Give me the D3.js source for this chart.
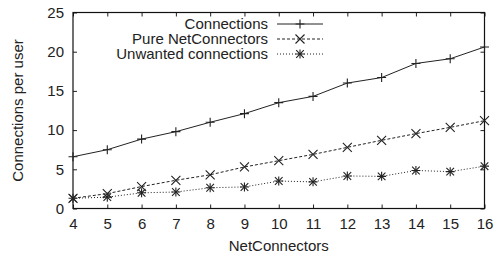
<!DOCTYPE html>
<html>
<head>
<meta charset="utf-8">
<script src="https://cdn.jsdelivr.net/npm/d3@7"></script>
<style>
  body { margin: 0; background: #fff; }
  text { font-family: "Liberation Sans", Arial, sans-serif; fill: #222; }
</style>
</head>
<body>
<div id="viz"></div>
<script>
// values
var nodes = [4, 5, 6, 7, 8, 9, 10, 11, 12, 13, 14, 15, 16];
var connections = [6.6, 7.5, 8.85, 9.8, 11.0, 12.1, 13.5, 14.3, 16.0, 16.7, 18.5, 19.1, 20.6];
var pureNC = [1.3, 1.9, 2.8, 3.6, 4.3, 5.3, 6.1, 6.9, 7.8, 8.7, 9.55, 10.35, 11.2];
var unwanted = [1.3, 1.45, 2.0, 2.1, 2.65, 2.75, 3.5, 3.4, 4.15, 4.1, 4.85, 4.7, 5.4];
var yTicks = [0, 5, 10, 15, 20, 25];
var seriesNames = ["Connections", "Pure NetConnectors", "Unwanted connections"];

var W = 495, H = 257;
// plot box (named so they don't clash with window.top etc.)
var padL = 73, padR = 484.5, padT = 12.5, padB = 208.5;
var fontSize = "15px";

var svg = d3.select("#viz").append("svg")
    .attr("width", W)
    .attr("height", H);

var x = d3.scaleLinear().domain([4, 16]).range([padL, padR]);
var y = d3.scaleLinear().domain([0, 25]).range([padB, padT]);

// ticks pointing inwards, mirrored on top and right
svg.append("g")
    .attr("transform", "translate(0," + padB + ")")
    .call(d3.axisBottom(x).tickValues(nodes).tickSize(-4).tickPadding(10).tickFormat(d3.format("d")))
    .call(function(g) { g.select(".domain").remove(); });
svg.append("g")
    .attr("transform", "translate(0," + padT + ")")
    .call(d3.axisTop(x).tickValues(nodes).tickSize(-4).tickFormat(""))
    .call(function(g) { g.select(".domain").remove(); });
svg.append("g")
    .attr("transform", "translate(" + padL + ",0)")
    .call(d3.axisLeft(y).tickValues(yTicks).tickSize(-4).tickPadding(9))
    .call(function(g) { g.select(".domain").remove(); });
svg.append("g")
    .attr("transform", "translate(" + padR + ",0)")
    .call(d3.axisRight(y).tickValues(yTicks).tickSize(-4).tickFormat(""))
    .call(function(g) { g.select(".domain").remove(); });

svg.selectAll(".tick text")
    .style("font-size", fontSize)
    .style("font-family", "Liberation Sans, Arial, sans-serif")
    .attr("fill", "#222");
svg.selectAll(".tick line").attr("stroke", "#222");

svg.append("rect")
    .attr("x", padL).attr("y", padT)
    .attr("width", padR - padL).attr("height", padB - padT)
    .attr("fill", "none")
    .attr("stroke", "#111")
    .attr("stroke-width", 1.2);

// axis titles
svg.append("text")
    .attr("x", (padL + padR) / 2).attr("y", 251)
    .attr("text-anchor", "middle")
    .style("font-size", fontSize)
    .text("NetConnectors");
svg.append("text")
    .attr("transform", "translate(23," + ((padT + padB) / 2) + ") rotate(-90)")
    .attr("text-anchor", "middle")
    .style("font-size", fontSize)
    .text("Connections per user");

// marker shapes
function plusMark(g, cx, cy, r) {
    g.append("path")
        .attr("d", "M" + (cx - r) + "," + cy + "H" + (cx + r) + "M" + cx + "," + (cy - r) + "V" + (cy + r))
        .attr("stroke", "#222").attr("stroke-width", 1.1).attr("fill", "none");
}
function crossMark(g, cx, cy, r) {
    g.append("path")
        .attr("d", "M" + (cx - r) + "," + (cy - r) + "L" + (cx + r) + "," + (cy + r) +
                   "M" + (cx - r) + "," + (cy + r) + "L" + (cx + r) + "," + (cy - r))
        .attr("stroke", "#222").attr("stroke-width", 1.1).attr("fill", "none");
}
function starMark(g, cx, cy, r) {
    plusMark(g, cx, cy, r);
    crossMark(g, cx, cy, r * 0.85);
}

var series = [
    {name: seriesNames[0], vals: connections, dash: null, mark: plusMark},
    {name: seriesNames[1], vals: pureNC, dash: "3,2", mark: crossMark},
    {name: seriesNames[2], vals: unwanted, dash: "1,2", mark: starMark}
];

var line = d3.line()
    .x(function(d) { return x(d[0]); })
    .y(function(d) { return y(d[1]); });

series.forEach(function(s, k) {
    var pts = nodes.map(function(n, i) { return [n, s.vals[i]]; });
    svg.append("path")
        .datum(pts)
        .attr("d", line)
        .attr("fill", "none")
        .attr("stroke", "#222")
        .attr("stroke-width", 1)
        .attr("stroke-dasharray", s.dash);
    var g = svg.append("g");
    pts.forEach(function(p) { s.mark(g, x(p[0]), y(p[1]), 4.5); });

    // legend entry
    var ly = 24 + k * 15;
    svg.append("text")
        .attr("x", 268).attr("y", ly)
        .attr("dy", "0.35em")
        .attr("text-anchor", "end")
        .style("font-size", fontSize)
        .text(s.name);
    svg.append("line")
        .attr("x1", 277).attr("x2", 323)
        .attr("y1", ly).attr("y2", ly)
        .attr("stroke", "#222")
        .attr("stroke-dasharray", s.dash);
    s.mark(svg, 300, ly, 4.5);
});
</script>
</body>
</html>
